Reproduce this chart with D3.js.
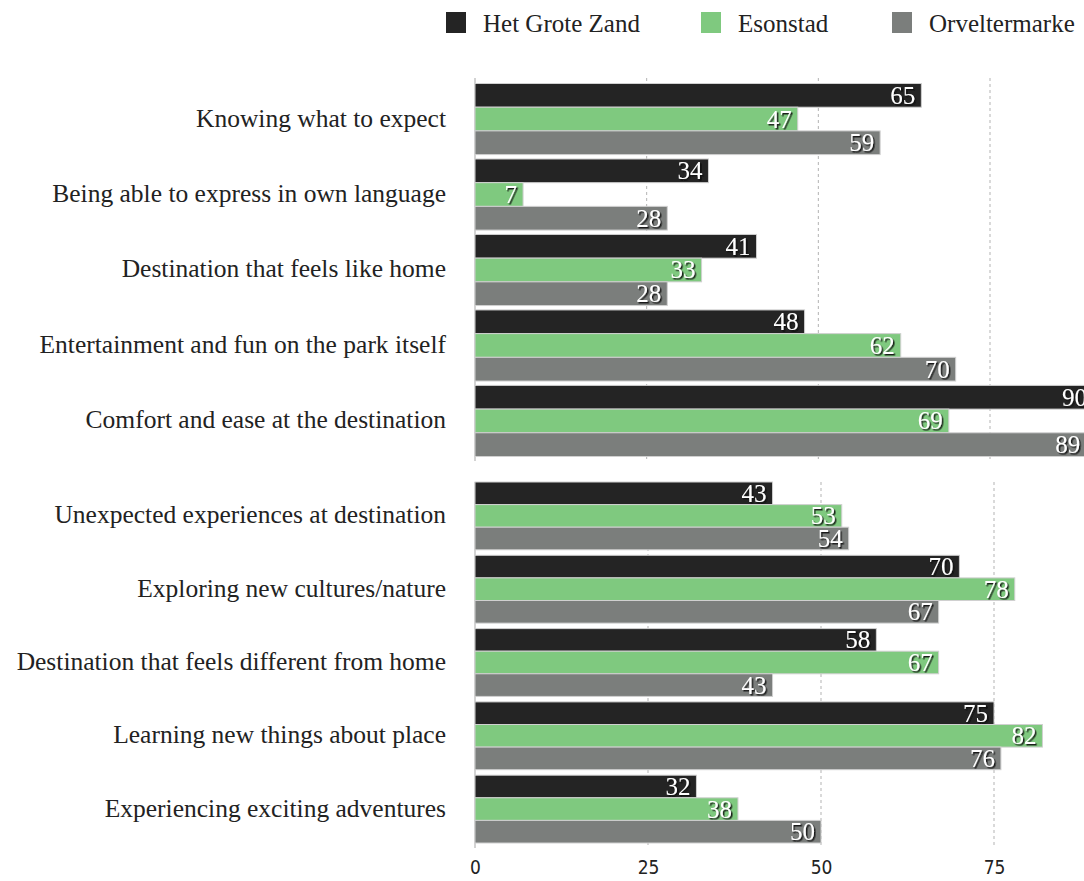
<!DOCTYPE html>
<html>
<head>
<meta charset="utf-8">
<script src="https://cdn.jsdelivr.net/npm/d3@7"></script>
<style>
  html, body { margin: 0; padding: 0; background: #fff; overflow: hidden; }
  svg { display: block; }
</style>
</head>
<body>
<svg id="chart" width="1084" height="881"></svg>
<script>
// ---- data ----
const seriesNames = ["Het Grote Zand", "Esonstad", "Orveltermarke"];
const topCategories = [
  "Knowing what to expect",
  "Being able to express in own language",
  "Destination that feels like home",
  "Entertainment and fun on the park itself",
  "Comfort and ease at the destination"
];
const bottomCategories = [
  "Unexpected experiences at destination",
  "Exploring new cultures/nature",
  "Destination that feels different from home",
  "Learning new things about place",
  "Experiencing exciting adventures"
];
const hetGroteZand  = [65, 34, 41, 48, 90, 43, 70, 58, 75, 32];
const esonstad      = [47,  7, 33, 62, 69, 53, 78, 67, 82, 38];
const orveltermarke = [59, 28, 28, 70, 89, 54, 67, 43, 76, 50];
const tickValues = [0, 25, 50, 75];

// ---- style ----
const colors = ["#242424", "#7fc97f", "#7b7e7c"];
const serif = "'Liberation Serif', 'DejaVu Serif', serif";

const svg = d3.select("#chart");
const defs = svg.append("defs");
const f = defs.append("filter").attr("id", "shadow").attr("x", "-20%").attr("y", "-20%").attr("width", "150%").attr("height", "150%");
f.append("feDropShadow").attr("dx", 1.5).attr("dy", 1.5).attr("stdDeviation", 0.6)
  .attr("flood-color", "#111").attr("flood-opacity", 0.9);

const seriesValues = [hetGroteZand, esonstad, orveltermarke];

const panels = [
  { cats: topCategories, offset: 0, y: [83.5, 456.5], grid: [78, 461], xMax: 75, xPx: 990 },
  { cats: bottomCategories, offset: 5, y: [482, 843], grid: [482, 848], xMax: 75, xPx: 994 }
];
const x0 = 475;

panels.forEach((p, pi) => {
  const x = d3.scaleLinear().domain([0, p.xMax]).range([x0, p.xPx]);
  const yBand = d3.scaleBand().domain(p.cats).range(p.y).paddingInner(pi === 0 ? 0.058 : 0.075).paddingOuter(0);
  const ySub = d3.scaleBand().domain(seriesNames).range([0, yBand.bandwidth()]).padding(0);

  const g = svg.append("g");

  // grid lines
  g.selectAll("line.grid").data(tickValues.filter(t => t > 0)).join("line")
    .attr("x1", d => x(d)).attr("x2", d => x(d))
    .attr("y1", p.grid[0]).attr("y2", p.grid[1])
    .attr("stroke", "#b3b3b3").attr("stroke-width", 1).attr("stroke-dasharray", "3,3");

  // axis line
  g.append("line").attr("x1", x0).attr("x2", x0).attr("y1", p.grid[0]).attr("y2", p.grid[1])
    .attr("stroke", "#c4c4c4").attr("stroke-width", 1.5);

  const rows = p.cats.map((c, i) => ({ cat: c, vals: seriesValues.map(s => s[i + p.offset]) }));

  const grp = g.selectAll("g.row").data(rows).join("g")
    .attr("transform", d => `translate(0,${yBand(d.cat)})`);

  // category labels
  grp.append("text")
    .attr("x", 446).attr("y", ySub(seriesNames[1]) + ySub.bandwidth() / 2 - 1)
    .attr("text-anchor", "end").attr("dominant-baseline", "central")
    .attr("font-family", serif).attr("font-size", 25.5).attr("fill", "#222")
    .text(d => d.cat);

  const bars = grp.selectAll("g.bar").data(d => d.vals.map((v, k) => ({ v, k }))).join("g");

  bars.append("rect")
    .attr("x", x0).attr("y", d => ySub(seriesNames[d.k]))
    .attr("width", d => x(d.v) - x0).attr("height", ySub.bandwidth())
    .attr("fill", d => colors[d.k]).attr("stroke", "#d0d0d0").attr("stroke-width", 1);

  // value labels with shadow
  bars.append("text")
    .attr("x", d => x(d.v) - 6).attr("y", d => ySub(seriesNames[d.k]) + ySub.bandwidth() / 2)
    .attr("text-anchor", "end").attr("dominant-baseline", "central")
    .attr("font-family", serif).attr("font-size", 25).attr("fill", "#fff")
    .attr("filter", "url(#shadow)")
    .text(d => d.v);

  if (pi === 1) {
    const axis = d3.axisBottom(x).tickValues(tickValues).tickSize(0).tickPadding(0);
    const ag = svg.append("g").attr("transform", `translate(0,860)`).call(axis);
    ag.select(".domain").remove();
    ag.selectAll("text")
      .attr("font-family", "'Liberation Sans Narrow', 'DejaVu Sans Condensed', sans-serif")
      .attr("font-size", 19).attr("fill", "#222");
  }
});

// legend
const legendX = [446, 701, 892];
const lg = svg.append("g").selectAll("g").data(seriesNames).join("g")
  .attr("transform", (d, i) => `translate(${legendX[i]},12)`);
lg.append("rect").attr("width", 20).attr("height", 21).attr("fill", (d, i) => colors[i]);
lg.append("text").attr("x", 37).attr("y", 11).attr("dominant-baseline", "central")
  .attr("font-family", serif).attr("font-size", 25).attr("fill", "#222").text(d => d);
</script>
</body>
</html>
